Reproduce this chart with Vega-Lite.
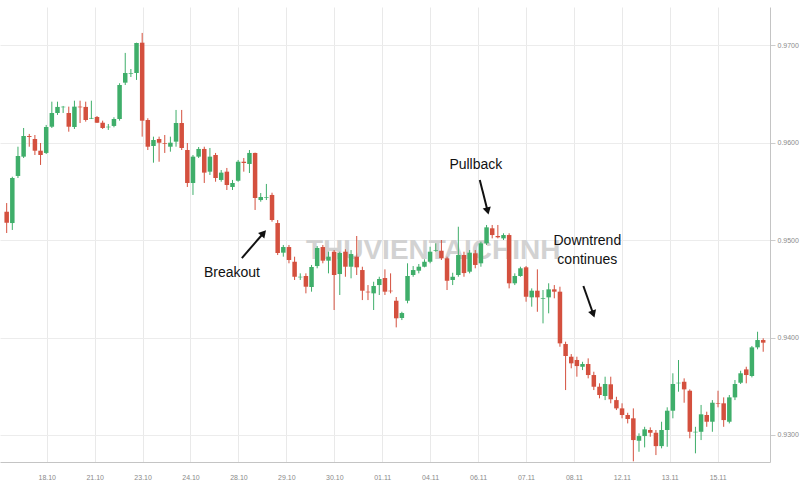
{
  "$schema": "https://vega.github.io/schema/vega-lite/v6.json",
  "width": 770,
  "height": 455,
  "autosize": {"type": "none"},
  "padding": {"left": 0, "top": 7, "right": 30, "bottom": 42},
  "background": "white",
  "config": {"view": {"stroke": null}, "font": "Liberation Sans"},
  "datasets": {
    "candles": [
      {"n":1,"o":0.95290,"h":0.95379,"l":0.95072,"c":0.95177},
      {"n":2,"o":0.95174,"h":0.95649,"l":0.95103,"c":0.95636},
      {"n":3,"o":0.95657,"h":0.95957,"l":0.95636,"c":0.95862},
      {"n":4,"o":0.95855,"h":0.96149,"l":0.95841,"c":0.96067},
      {"n":5,"o":0.96067,"h":0.96088,"l":0.95957,"c":0.96057},
      {"n":6,"o":0.96036,"h":0.96077,"l":0.95872,"c":0.95916},
      {"n":7,"o":0.95916,"h":0.95995,"l":0.95770,"c":0.95872},
      {"n":8,"o":0.95893,"h":0.96180,"l":0.95882,"c":0.96159},
      {"n":9,"o":0.96162,"h":0.96419,"l":0.96149,"c":0.96303},
      {"n":10,"o":0.96303,"h":0.96419,"l":0.96283,"c":0.96365},
      {"n":11,"o":0.96361,"h":0.96375,"l":0.96303,"c":0.96368},
      {"n":12,"o":0.96303,"h":0.96368,"l":0.96111,"c":0.96162},
      {"n":13,"o":0.96159,"h":0.96429,"l":0.96139,"c":0.96368},
      {"n":14,"o":0.96368,"h":0.96429,"l":0.96200,"c":0.96361},
      {"n":15,"o":0.96365,"h":0.96419,"l":0.96214,"c":0.96231},
      {"n":16,"o":0.96245,"h":0.96429,"l":0.96241,"c":0.96252},
      {"n":17,"o":0.96262,"h":0.96272,"l":0.96200,"c":0.96203},
      {"n":18,"o":0.96203,"h":0.96224,"l":0.96139,"c":0.96149},
      {"n":19,"o":0.96156,"h":0.96190,"l":0.96129,"c":0.96162},
      {"n":20,"o":0.96170,"h":0.96259,"l":0.96156,"c":0.96241},
      {"n":21,"o":0.96241,"h":0.96608,"l":0.96224,"c":0.96590},
      {"n":22,"o":0.96614,"h":0.96919,"l":0.96590,"c":0.96713},
      {"n":23,"o":0.96706,"h":0.96754,"l":0.96672,"c":0.96713},
      {"n":24,"o":0.96713,"h":0.97024,"l":0.96642,"c":0.97021},
      {"n":25,"o":0.97024,"h":0.97124,"l":0.96060,"c":0.96224},
      {"n":26,"o":0.96231,"h":0.96249,"l":0.95923,"c":0.95957},
      {"n":27,"o":0.95964,"h":0.96060,"l":0.95793,"c":0.96026},
      {"n":28,"o":0.96036,"h":0.96060,"l":0.95803,"c":0.95998},
      {"n":29,"o":0.95995,"h":0.96077,"l":0.95893,"c":0.95988},
      {"n":30,"o":0.95957,"h":0.96060,"l":0.95906,"c":0.95998},
      {"n":31,"o":0.96009,"h":0.96334,"l":0.95957,"c":0.96200},
      {"n":32,"o":0.96200,"h":0.96334,"l":0.95923,"c":0.95944},
      {"n":33,"o":0.95923,"h":0.95995,"l":0.95544,"c":0.95585},
      {"n":34,"o":0.95585,"h":0.95872,"l":0.95462,"c":0.95855},
      {"n":35,"o":0.95855,"h":0.95954,"l":0.95841,"c":0.95934},
      {"n":36,"o":0.95934,"h":0.95957,"l":0.95585,"c":0.95691},
      {"n":37,"o":0.95701,"h":0.95944,"l":0.95667,"c":0.95855},
      {"n":38,"o":0.95872,"h":0.95893,"l":0.95598,"c":0.95636},
      {"n":39,"o":0.95616,"h":0.95718,"l":0.95598,"c":0.95691},
      {"n":40,"o":0.95701,"h":0.95739,"l":0.95513,"c":0.95564},
      {"n":41,"o":0.95544,"h":0.95616,"l":0.95513,"c":0.95585},
      {"n":42,"o":0.95608,"h":0.95821,"l":0.95598,"c":0.95803},
      {"n":43,"o":0.95803,"h":0.95841,"l":0.95701,"c":0.95790},
      {"n":44,"o":0.95780,"h":0.95923,"l":0.95687,"c":0.95893},
      {"n":45,"o":0.95893,"h":0.95896,"l":0.95308,"c":0.95431},
      {"n":46,"o":0.95410,"h":0.95482,"l":0.95393,"c":0.95441},
      {"n":47,"o":0.95434,"h":0.95575,"l":0.95410,"c":0.95441},
      {"n":48,"o":0.95462,"h":0.95485,"l":0.95188,"c":0.95205},
      {"n":49,"o":0.95174,"h":0.95205,"l":0.94846,"c":0.94867},
      {"n":50,"o":0.94870,"h":0.94949,"l":0.94829,"c":0.94928},
      {"n":51,"o":0.94928,"h":0.94949,"l":0.94761,"c":0.94795},
      {"n":52,"o":0.94777,"h":0.94829,"l":0.94590,"c":0.94623},
      {"n":53,"o":0.94617,"h":0.94658,"l":0.94590,"c":0.94623},
      {"n":54,"o":0.94631,"h":0.94658,"l":0.94453,"c":0.94521},
      {"n":55,"o":0.94518,"h":0.94744,"l":0.94470,"c":0.94723},
      {"n":56,"o":0.94733,"h":0.94938,"l":0.94710,"c":0.94918},
      {"n":57,"o":0.94928,"h":0.94949,"l":0.94761,"c":0.94788},
      {"n":58,"o":0.94788,"h":0.94880,"l":0.94658,"c":0.94829},
      {"n":59,"o":0.94880,"h":0.94897,"l":0.94282,"c":0.94641},
      {"n":60,"o":0.94651,"h":0.94880,"l":0.94436,"c":0.94867},
      {"n":61,"o":0.94880,"h":0.94905,"l":0.94623,"c":0.94726},
      {"n":62,"o":0.94726,"h":0.94897,"l":0.94607,"c":0.94856},
      {"n":63,"o":0.94829,"h":0.95041,"l":0.94641,"c":0.94720},
      {"n":64,"o":0.94692,"h":0.94726,"l":0.94384,"c":0.94480},
      {"n":65,"o":0.94470,"h":0.94538,"l":0.94384,"c":0.94463},
      {"n":66,"o":0.94453,"h":0.94572,"l":0.94282,"c":0.94528},
      {"n":67,"o":0.94538,"h":0.94623,"l":0.94436,"c":0.94600},
      {"n":68,"o":0.94610,"h":0.94699,"l":0.94436,"c":0.94470},
      {"n":69,"o":0.94480,"h":0.94658,"l":0.94453,"c":0.94474},
      {"n":70,"o":0.94377,"h":0.94415,"l":0.94104,"c":0.94197},
      {"n":71,"o":0.94200,"h":0.94264,"l":0.94179,"c":0.94251},
      {"n":72,"o":0.94377,"h":0.94761,"l":0.94351,"c":0.94631},
      {"n":73,"o":0.94641,"h":0.94733,"l":0.94623,"c":0.94692},
      {"n":74,"o":0.94685,"h":0.94754,"l":0.94658,"c":0.94726},
      {"n":75,"o":0.94726,"h":0.94802,"l":0.94720,"c":0.94777},
      {"n":76,"o":0.94777,"h":0.94931,"l":0.94761,"c":0.94880},
      {"n":77,"o":0.94890,"h":0.94966,"l":0.94880,"c":0.94897},
      {"n":78,"o":0.94890,"h":0.95000,"l":0.94795,"c":0.94812},
      {"n":79,"o":0.94812,"h":0.94829,"l":0.94487,"c":0.94582},
      {"n":80,"o":0.94590,"h":0.94664,"l":0.94538,"c":0.94623},
      {"n":81,"o":0.94641,"h":0.95136,"l":0.94623,"c":0.94846},
      {"n":82,"o":0.94846,"h":0.94880,"l":0.94623,"c":0.94661},
      {"n":83,"o":0.94675,"h":0.94897,"l":0.94658,"c":0.94870},
      {"n":84,"o":0.94864,"h":0.94897,"l":0.94710,"c":0.94744},
      {"n":85,"o":0.94761,"h":0.94983,"l":0.94726,"c":0.94966},
      {"n":86,"o":0.94966,"h":0.95154,"l":0.94949,"c":0.95130},
      {"n":87,"o":0.95120,"h":0.95154,"l":0.95017,"c":0.95051},
      {"n":88,"o":0.95041,"h":0.95154,"l":0.95017,"c":0.95028},
      {"n":89,"o":0.95017,"h":0.95069,"l":0.95000,"c":0.95051},
      {"n":90,"o":0.95051,"h":0.95069,"l":0.94504,"c":0.94556},
      {"n":91,"o":0.94556,"h":0.94658,"l":0.94538,"c":0.94631},
      {"n":92,"o":0.94631,"h":0.94726,"l":0.94623,"c":0.94710},
      {"n":93,"o":0.94720,"h":0.94733,"l":0.94367,"c":0.94418},
      {"n":94,"o":0.94412,"h":0.94504,"l":0.94316,"c":0.94480},
      {"n":95,"o":0.94480,"h":0.94699,"l":0.94264,"c":0.94412},
      {"n":96,"o":0.94398,"h":0.94487,"l":0.94145,"c":0.94405},
      {"n":97,"o":0.94412,"h":0.94556,"l":0.94248,"c":0.94494},
      {"n":98,"o":0.94494,"h":0.94538,"l":0.94402,"c":0.94470},
      {"n":99,"o":0.94470,"h":0.94521,"l":0.93905,"c":0.93940},
      {"n":100,"o":0.93933,"h":0.93957,"l":0.93461,"c":0.93810},
      {"n":101,"o":0.93803,"h":0.93830,"l":0.93684,"c":0.93735},
      {"n":102,"o":0.93769,"h":0.93803,"l":0.93598,"c":0.93707},
      {"n":103,"o":0.93700,"h":0.93751,"l":0.93666,"c":0.93728},
      {"n":104,"o":0.93728,"h":0.93786,"l":0.93581,"c":0.93615},
      {"n":105,"o":0.93615,"h":0.93649,"l":0.93461,"c":0.93495},
      {"n":106,"o":0.93495,"h":0.93530,"l":0.93376,"c":0.93410},
      {"n":107,"o":0.93400,"h":0.93598,"l":0.93358,"c":0.93523},
      {"n":108,"o":0.93520,"h":0.93598,"l":0.93325,"c":0.93366},
      {"n":109,"o":0.93358,"h":0.93392,"l":0.93256,"c":0.93273},
      {"n":110,"o":0.93273,"h":0.93325,"l":0.93171,"c":0.93205},
      {"n":111,"o":0.93205,"h":0.93228,"l":0.93119,"c":0.93164},
      {"n":112,"o":0.93171,"h":0.93273,"l":0.92730,"c":0.92948},
      {"n":113,"o":0.92941,"h":0.93017,"l":0.92828,"c":0.92989},
      {"n":114,"o":0.92989,"h":0.93084,"l":0.92873,"c":0.93058},
      {"n":115,"o":0.93051,"h":0.93078,"l":0.92982,"c":0.93023},
      {"n":116,"o":0.93023,"h":0.93051,"l":0.92794,"c":0.92886},
      {"n":117,"o":0.92886,"h":0.93136,"l":0.92863,"c":0.93051},
      {"n":118,"o":0.93051,"h":0.93284,"l":0.92879,"c":0.93249},
      {"n":119,"o":0.93249,"h":0.93633,"l":0.93171,"c":0.93523},
      {"n":120,"o":0.93530,"h":0.93769,"l":0.93444,"c":0.93536},
      {"n":121,"o":0.93546,"h":0.93581,"l":0.93331,"c":0.93468},
      {"n":122,"o":0.93454,"h":0.93468,"l":0.92966,"c":0.93033},
      {"n":123,"o":0.93027,"h":0.93084,"l":0.92812,"c":0.93033},
      {"n":124,"o":0.93033,"h":0.93308,"l":0.92948,"c":0.93212},
      {"n":125,"o":0.93205,"h":0.93239,"l":0.93084,"c":0.93136},
      {"n":126,"o":0.93136,"h":0.93358,"l":0.93033,"c":0.93331},
      {"n":127,"o":0.93325,"h":0.93454,"l":0.93284,"c":0.93319},
      {"n":128,"o":0.93325,"h":0.93386,"l":0.93084,"c":0.93153},
      {"n":129,"o":0.93136,"h":0.93410,"l":0.93119,"c":0.93386},
      {"n":130,"o":0.93386,"h":0.93564,"l":0.93358,"c":0.93523},
      {"n":131,"o":0.93536,"h":0.93659,"l":0.93523,"c":0.93633},
      {"n":132,"o":0.93673,"h":0.93700,"l":0.93530,"c":0.93615},
      {"n":133,"o":0.93605,"h":0.93913,"l":0.93591,"c":0.93899},
      {"n":134,"o":0.93899,"h":0.94059,"l":0.93879,"c":0.93974},
      {"n":135,"o":0.93974,"h":0.93992,"l":0.93854,"c":0.93947}
    ],
    "notes": [
      {"x": 84.1, "y": 0.95769, "t": "Pullback"},
      {"x": 40.9, "y": 0.94662, "t": "Breakout"},
      {"x": 103.85, "y": 0.94990, "t": "Downtrend"},
      {"x": 103.85, "y": 0.94795, "t": "continues"}
    ],
    "arrows": [
      {"a": "pullback", "x": 84.80, "y": 0.95615, "x2": 86.19, "y2": 0.95297},
      {"a": "breakout", "x": 42.66, "y": 0.94815, "x2": 46.51, "y2": 0.95072},
      {"a": "downtrend", "x": 103.15, "y": 0.94528, "x2": 104.9, "y2": 0.94241}
    ],
    "watermark": [
      {"x": 54.0, "y": 0.94887, "t": "THUVIENTAICHINH"}
    ]
  },
  "layer": [
    {
      "mark": {"type": "rule", "color": "#d0d0d0", "strokeWidth": 1},
      "encoding": {
        "y": {"datum": 0.9739, "type": "quantitative", "scale": {"domain": [0.92723, 0.9739], "nice": false, "zero": false}}
      }
    },
    {
      "data": {"name": "watermark"},
      "mark": {"type": "text", "align": "left", "baseline": "middle", "fontSize": 28, "fontWeight": "bold", "color": "#d2d2d2"},
      "encoding": {
        "x": {"field": "x", "type": "quantitative", "title": null, "scale": {"domain": [0.703, 135.32], "nice": false, "zero": false}},
        "y": {"field": "y", "type": "quantitative", "title": null, "scale": {"domain": [0.92723, 0.9739], "nice": false, "zero": false}},
        "text": {"field": "t"}
      }
    },
    {
      "data": {"name": "candles"},
      "mark": {"type": "rule", "strokeWidth": 1},
      "encoding": {
        "x": {"field": "n", "type": "quantitative", "title": null,
          "scale": {"domain": [0.703, 135.32], "nice": false, "zero": false},
          "axis": {"orient": "bottom", "values": [8.10, 16.59, 25.08, 33.56, 42.05, 50.54, 59.03, 67.52, 76.00, 84.49, 92.98, 101.47, 109.96, 118.44, 126.93],
            "labelExpr": "['18.10','21.10','23.10','24.10','28.10','29.10','30.10','01.11','04.11','06.11','07.11','08.11','12.11','13.11','15.11'][round((datum.value-8.1)/8.488)]",
            "grid": true, "gridColor": "#e9e9e9", "ticks": false, "domainColor": "#c4c4c4", "labelColor": "#8a8a8a", "labelFontSize": 7, "labelPadding": 11, "title": null}},
        "y": {"field": "l", "type": "quantitative", "title": null,
          "scale": {"domain": [0.92723, 0.9739], "nice": false, "zero": false},
          "axis": {"orient": "right", "values": [0.93, 0.94, 0.95, 0.96, 0.97], "format": ".4f",
            "grid": true, "gridColor": "#ececec", "tickColor": "#cccccc", "tickSize": 5, "domainColor": "#c4c4c4", "labelColor": "#8a8a8a", "labelFontSize": 7, "labelPadding": 2, "title": null}},
        "y2": {"field": "h"},
        "color": {"condition": {"test": "datum.o < datum.c", "value": "#3fae6a"}, "value": "#d4503e"}
      }
    },
    {
      "data": {"name": "candles"},
      "mark": {"type": "bar", "size": 4.5},
      "encoding": {
        "x": {"field": "n", "type": "quantitative", "title": null, "scale": {"domain": [0.703, 135.32], "nice": false, "zero": false}},
        "y": {"field": "o", "type": "quantitative", "title": null, "scale": {"domain": [0.92723, 0.9739], "nice": false, "zero": false}},
        "y2": {"field": "c"},
        "color": {"condition": {"test": "datum.o < datum.c", "value": "#3fae6a"}, "value": "#d4503e"}
      }
    },
    {
      "mark": {"type": "rule", "color": "#111111", "strokeWidth": 2},
      "encoding": {
        "y": {"datum": 0.95195, "type": "quantitative", "scale": {"domain": [0.92723, 0.9739], "nice": false, "zero": false}}
      }
    },
    {
      "data": {"name": "arrows"},
      "mark": {"type": "rule", "color": "#111111", "strokeWidth": 2},
      "encoding": {
        "x": {"field": "x", "type": "quantitative", "title": null, "scale": {"domain": [0.703, 135.32], "nice": false, "zero": false}},
        "y": {"field": "y", "type": "quantitative", "title": null, "scale": {"domain": [0.92723, 0.9739], "nice": false, "zero": false}},
        "x2": {"field": "x2"},
        "y2": {"field": "y2"}
      }
    },
    {
      "data": {"name": "arrows"},
      "transform": [{"filter": "datum.a == 'pullback'"}],
      "mark": {"type": "point", "shape": "triangle-up", "filled": true, "color": "#111111", "size": 70, "angle": 165.5, "opacity": 1},
      "encoding": {
        "x": {"field": "x2", "type": "quantitative", "title": null, "scale": {"domain": [0.703, 135.32], "nice": false, "zero": false}},
        "y": {"field": "y2", "type": "quantitative", "title": null, "scale": {"domain": [0.92723, 0.9739], "nice": false, "zero": false}}
      }
    },
    {
      "data": {"name": "arrows"},
      "transform": [{"filter": "datum.a == 'breakout'"}],
      "mark": {"type": "point", "shape": "triangle-up", "filled": true, "color": "#111111", "size": 70, "angle": 41.5, "opacity": 1},
      "encoding": {
        "x": {"field": "x2", "type": "quantitative", "title": null, "scale": {"domain": [0.703, 135.32], "nice": false, "zero": false}},
        "y": {"field": "y2", "type": "quantitative", "title": null, "scale": {"domain": [0.92723, 0.9739], "nice": false, "zero": false}}
      }
    },
    {
      "data": {"name": "arrows"},
      "transform": [{"filter": "datum.a == 'downtrend'"}],
      "mark": {"type": "point", "shape": "triangle-up", "filled": true, "color": "#111111", "size": 70, "angle": 161, "opacity": 1},
      "encoding": {
        "x": {"field": "x2", "type": "quantitative", "title": null, "scale": {"domain": [0.703, 135.32], "nice": false, "zero": false}},
        "y": {"field": "y2", "type": "quantitative", "title": null, "scale": {"domain": [0.92723, 0.9739], "nice": false, "zero": false}}
      }
    },
    {
      "data": {"name": "notes"},
      "mark": {"type": "text", "align": "center", "baseline": "middle", "fontSize": 14, "color": "#111111"},
      "encoding": {
        "x": {"field": "x", "type": "quantitative", "title": null, "scale": {"domain": [0.703, 135.32], "nice": false, "zero": false}},
        "y": {"field": "y", "type": "quantitative", "title": null, "scale": {"domain": [0.92723, 0.9739], "nice": false, "zero": false}},
        "text": {"field": "t"}
      }
    }
  ]
}
